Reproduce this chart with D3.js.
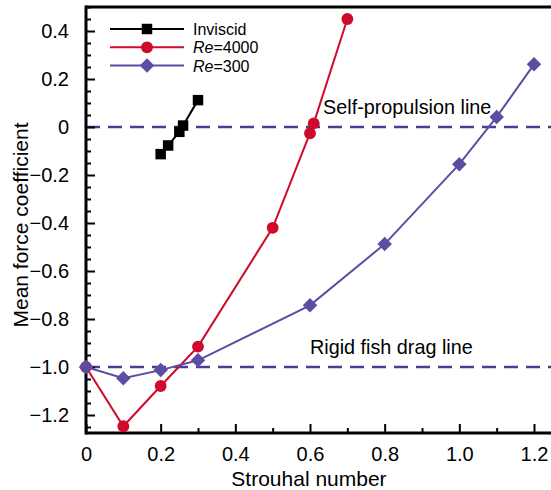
<!DOCTYPE html>
<html>
<head>
<meta charset="utf-8">
<style>
  body { margin: 0; background: #fff; }
  svg { display: block; font-family: 'Liberation Sans', Arial, Helvetica, sans-serif; }
</style>
</head>
<body>
<svg width="551" height="490"></svg>
<script src="https://d3js.org/d3.v7.min.js"></script>
<script>
// data
let invSt = [0.2, 0.22, 0.25, 0.26, 0.3];
let invCf = [-0.113, -0.077, -0.02, 0.006, 0.112];

let re4000St = [0, 0.1, 0.2, 0.3, 0.5, 0.6, 0.61, 0.7];
let re4000Cf = [-1.0, -1.247, -1.079, -0.915, -0.42, -0.026, 0.015, 0.45];

let re300St = [0, 0.1, 0.2, 0.3, 0.6, 0.8, 1.0, 1.1, 1.2];
let re300Cf = [-1.0, -1.047, -1.013, -0.972, -0.743, -0.488, -0.155, 0.042, 0.261];

let xTicks = [0, 0.2, 0.4, 0.6, 0.8, 1.0, 1.2];
let yTicks = [-1.2, -1.0, -0.8, -0.6, -0.4, -0.2, 0, 0.2, 0.4];
let refLines = [
  { y: 0, label: "Self-propulsion line", st: 0.635 },
  { y: -1.0, label: "Rigid fish drag line", st: 0.6 }
];

let red = "#d00a2c", purple = "#5a4ea2", dash = "#4e3c94";

let svg = d3.select("svg");
let margin = { left: 86, top: 7, bottom: 433, right: 551 };

let x = d3.scaleLinear().domain([0, 1.2]).range([86, 534]);
let y = d3.scaleLinear().domain([-1.275, 0.5]).range([433, 7]);

// reference dashed lines
refLines.forEach(r => {
  svg.append("line")
    .attr("x1", margin.left).attr("x2", margin.right)
    .attr("y1", y(r.y)).attr("y2", y(r.y))
    .attr("stroke", dash).attr("stroke-width", 2.4)
    .attr("stroke-dasharray", "14 8");
  svg.append("text")
    .attr("x", x(r.st)).attr("y", y(r.y) - 13)
    .attr("font-size", "19.8px")
    .text(r.label);
});

// axes
let fmt = d => d === 0 ? "0" : d3.format(".1f")(d).replace("-", "\u2212");

let xAxis = svg.append("g")
  .attr("transform", `translate(0,${margin.bottom})`)
  .call(d3.axisBottom(x).tickValues(xTicks).tickSize(-9).tickPadding(14).tickFormat(fmt));
xAxis.selectAll(".tick text").attr("font-size", "20px").attr("fill", "#000");
xAxis.append("g").call(d3.axisBottom(x).tickValues(d3.range(1, 12, 2).map(d => d / 10)).tickSize(-5).tickFormat(""));

let yAxis = svg.append("g")
  .attr("transform", `translate(${margin.left},0)`)
  .call(d3.axisLeft(y).tickValues(yTicks).tickSize(-9).tickPadding(17).tickFormat(fmt));
yAxis.selectAll(".tick text").attr("font-size", "20px").attr("fill", "#000");
yAxis.append("g").call(d3.axisLeft(y).tickValues(d3.range(-25, 11).filter(d => d % 4 !== 0).map(d => d * 0.05)).tickSize(-5).tickFormat(""));

svg.selectAll(".domain").remove();
svg.selectAll(".tick line").attr("stroke", "#000").attr("stroke-width", 2);

// frame lines
svg.append("line").attr("x1", margin.left).attr("x2", margin.left)
  .attr("y1", margin.top - 1.5).attr("y2", margin.bottom + 1.5)
  .attr("stroke", "#000").attr("stroke-width", 3);
svg.append("line").attr("x1", margin.left).attr("x2", margin.right)
  .attr("y1", margin.bottom).attr("y2", margin.bottom)
  .attr("stroke", "#000").attr("stroke-width", 3);
svg.append("line").attr("x1", margin.left).attr("x2", margin.right)
  .attr("y1", margin.top).attr("y2", margin.top)
  .attr("stroke", "#000").attr("stroke-width", 3);

// axis titles
svg.append("text")
  .attr("x", 309).attr("y", 486)
  .attr("text-anchor", "middle").attr("font-size", "21px")
  .text("Strouhal number");
svg.append("text")
  .attr("transform", `translate(28,${(margin.top + margin.bottom) / 2 + 5}) rotate(-90)`)
  .attr("text-anchor", "middle").attr("font-size", "21px")
  .text("Mean force coefficient");

// series
let line = d3.line().x(d => x(d[0])).y(d => y(d[1]));
let square = d3.symbol().type(d3.symbolSquare).size(110);
let circle = d3.symbol().type(d3.symbolCircle).size(110);
let diamond = d3.symbol().type(d3.symbolSquare).size(105);

let series = [
  { st: re4000St, cf: re4000Cf, color: red, sym: circle, rot: 0 },
  { st: re300St, cf: re300Cf, color: purple, sym: diamond, rot: 45 },
  { st: invSt, cf: invCf, color: "#000", sym: square, rot: 0 }
];

series.forEach(s => {
  let pts = s.st.map((d, i) => [d, s.cf[i]]);
  svg.append("path").datum(pts)
    .attr("d", line).attr("fill", "none")
    .attr("stroke", s.color).attr("stroke-width", 2);
  svg.append("g").selectAll("path").data(pts).join("path")
    .attr("d", s.sym)
    .attr("transform", d => `translate(${x(d[0])},${y(d[1])}) rotate(${s.rot})`)
    .attr("fill", s.color);
});

// legend
let legend = [
  { name: "Inviscid", color: "#000", sym: square, rot: 0 },
  { name: "4000", color: red, sym: circle, rot: 0 },
  { name: "300", color: purple, sym: diamond, rot: 45 }
];
legend.forEach((l, i) => {
  let ly = 29 + i * 18.3;
  svg.append("line").attr("x1", 110).attr("x2", 184).attr("y1", ly).attr("y2", ly)
    .attr("stroke", l.color).attr("stroke-width", 2);
  svg.append("path").attr("d", l.sym)
    .attr("transform", `translate(147,${ly}) rotate(${l.rot})`)
    .attr("fill", l.color);
  let t = svg.append("text").attr("x", 193).attr("y", ly + 6).attr("font-size", "16px");
  if (i === 0) t.text(l.name);
  else {
    t.append("tspan").attr("font-style", "italic").text("Re");
    t.append("tspan").text("=" + l.name);
  }
});
</script>
</body>
</html>
